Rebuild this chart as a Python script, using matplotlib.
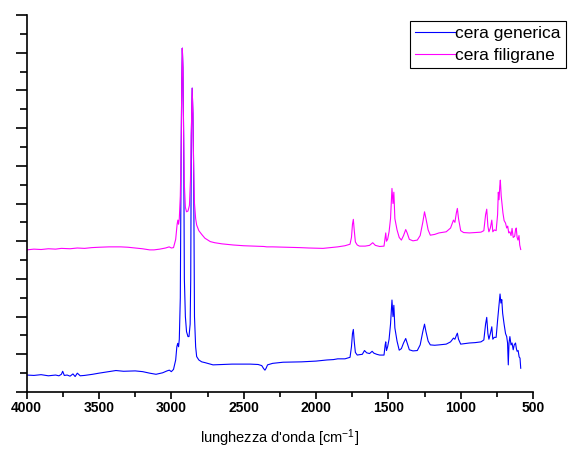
import matplotlib
matplotlib.use("Agg")
import matplotlib.pyplot as plt
from matplotlib.ticker import MultipleLocator, NullFormatter

plt.rcParams["font.family"] = ["Liberation Sans", "DejaVu Sans"]
plt.rcParams["mathtext.default"] = "regular"

# cera generica (blu)
gen_x = [4000, 3950, 3900, 3850, 3800, 3777, 3760, 3751, 3740, 3720, 3700, 3680, 3665, 3650, 3630,
         3600, 3544, 3500, 3450, 3383, 3330, 3250, 3198, 3150, 3106, 3060, 3030, 3014, 3000, 2985,
         2970, 2962, 2956, 2950, 2945, 2938, 2932, 2928, 2924, 2920, 2915, 2910, 2903, 2895, 2885,
         2878, 2870, 2866, 2862, 2856, 2851, 2846, 2840, 2832, 2825, 2810, 2790, 2768, 2712, 2650,
         2580, 2455, 2400, 2375, 2362, 2353, 2345, 2335, 2300, 2228, 2100, 2000, 1924, 1880, 1850,
         1800, 1765, 1755, 1748, 1742, 1736, 1728, 1715, 1700, 1680, 1665, 1650, 1630, 1612, 1600,
         1580, 1560, 1530, 1522, 1518, 1513, 1505, 1495, 1485, 1475, 1468, 1462, 1455, 1440, 1425,
         1410, 1395, 1380, 1370, 1355, 1330, 1300, 1280, 1262, 1250, 1240, 1225, 1210, 1180, 1150,
         1100, 1070, 1050, 1040, 1030, 1023, 1015, 1000, 980, 940, 900, 860, 840, 828, 820,
         812, 805, 795, 785, 778, 768, 755, 745, 735, 728, 722, 716, 710, 700, 690,
         682, 676, 671, 666, 660, 652, 645, 637, 630, 621, 615, 610, 603, 596, 590, 585]
gen_y = [0.45, 0.44, 0.46, 0.43, 0.45, 0.43, 0.47, 0.55, 0.44, 0.45, 0.42, 0.48, 0.41, 0.50, 0.43,
         0.44, 0.47, 0.50, 0.53, 0.57, 0.55, 0.56, 0.54, 0.50, 0.47, 0.51, 0.56, 0.58, 0.54, 0.60,
         0.85, 1.20, 1.29, 1.20, 1.40, 2.5, 6.5, 8.2, 9.12, 8.6, 6.8, 3.0, 2.0, 1.60, 1.47,
         1.47, 1.8, 3.0, 6.8, 8.06, 7.4, 6.0, 2.0, 1.2, 0.94, 0.85, 0.80, 0.78, 0.72, 0.73,
         0.74, 0.74, 0.73, 0.70, 0.62, 0.58, 0.63, 0.72, 0.76, 0.79, 0.80, 0.82, 0.85, 0.86, 0.88,
         0.88, 0.92, 1.20, 1.55, 1.66, 1.35, 1.05, 0.98, 0.99, 1.00, 1.10, 1.04, 1.02, 1.08, 1.03,
         1.00, 0.98, 0.98, 1.25, 1.33, 1.10, 1.20, 1.40, 1.80, 2.44, 2.0, 2.3, 1.70, 1.35, 1.11,
         1.15, 1.30, 1.42, 1.30, 1.12, 1.09, 1.10, 1.25, 1.60, 1.80, 1.60, 1.35, 1.25, 1.24, 1.25,
         1.27, 1.33, 1.43, 1.40, 1.50, 1.56, 1.40, 1.27, 1.28, 1.30, 1.31, 1.33, 1.38, 1.80, 1.98,
         1.55, 1.40, 1.55, 1.73, 1.40, 1.45, 1.45, 1.90, 2.30, 2.60, 2.36, 2.45, 2.09, 1.80, 1.55,
         1.47, 1.30, 0.72, 1.30, 1.47, 1.25, 1.30, 1.12, 1.25, 1.30, 1.15, 1.08, 1.10, 0.93, 0.90, 0.63]

# cera filigrane (magenta)
fil_x = [4000, 3950, 3900, 3850, 3800, 3760, 3700, 3650, 3600, 3550, 3500, 3430, 3350, 3300, 3250,
         3200, 3150, 3120, 3080, 3040, 3015, 3000, 2985, 2970, 2960, 2955, 2950, 2945, 2938, 2932,
         2928, 2924, 2920, 2915, 2910, 2903, 2895, 2885, 2875, 2868, 2862, 2856, 2851, 2846, 2840,
         2832, 2825, 2810, 2790, 2768, 2731, 2700, 2650, 2573, 2500, 2420, 2360, 2341, 2300, 2200,
         2111, 2050, 1952, 1903, 1850, 1800, 1765, 1755, 1748, 1742, 1736, 1728, 1715, 1700, 1660,
         1630, 1608, 1590, 1560, 1530, 1522, 1518, 1513, 1505, 1495, 1485, 1475, 1468, 1462, 1455,
         1440, 1425, 1410, 1395, 1380, 1370, 1355, 1330, 1300, 1280, 1262, 1250, 1240, 1225, 1210,
         1180, 1150, 1100, 1070, 1050, 1040, 1030, 1023, 1015, 1000, 980, 940, 900, 860, 840,
         828, 820, 812, 805, 795, 785, 778, 768, 755, 745, 740, 735, 730, 726, 720,
         715, 708, 700, 690, 682, 675, 668, 660, 652, 645, 637, 627, 621, 616, 610,
         604, 597, 592, 585]
fil_y = [3.77, 3.79, 3.78, 3.80, 3.79, 3.81, 3.80, 3.82, 3.81, 3.83, 3.84, 3.85, 3.85, 3.84, 3.82,
         3.80, 3.77, 3.77, 3.79, 3.82, 3.85, 3.82, 3.83, 4.05, 4.45, 4.56, 4.45, 4.60, 5.2, 6.5,
         8.2, 9.12, 8.6, 6.8, 5.5, 4.9, 4.78, 4.80, 4.95, 5.6, 6.8, 8.06, 7.4, 6.0, 5.0,
         4.6, 4.43, 4.28, 4.18, 4.08, 3.99, 3.96, 3.93, 3.90, 3.88, 3.87, 3.86, 3.85, 3.85, 3.84,
         3.83, 3.82, 3.81, 3.83, 3.85, 3.88, 3.92, 4.10, 4.45, 4.58, 4.30, 3.98, 3.90, 3.87, 3.87,
         3.89, 3.96, 3.89, 3.86, 3.87, 4.10, 4.22, 4.00, 4.05, 4.25, 4.60, 5.40, 5.0, 5.3, 4.6,
         4.30, 4.10, 4.03, 4.15, 4.31, 4.22, 4.05, 4.01, 4.03, 4.15, 4.50, 4.78, 4.60, 4.30, 4.16,
         4.18, 4.22, 4.25, 4.35, 4.56, 4.50, 4.75, 4.87, 4.60, 4.28, 4.23, 4.22, 4.23, 4.24, 4.28,
         4.70, 4.85, 4.40, 4.25, 4.35, 4.56, 4.25, 4.30, 4.28, 4.70, 5.30, 5.10, 5.45, 5.62, 5.20,
         5.00, 4.75, 4.55, 4.48, 4.35, 4.40, 4.22, 4.25, 4.15, 4.34, 4.10, 4.13, 4.30, 4.35, 4.10,
         4.03, 4.15, 3.90, 3.78]

fig = plt.figure(figsize=(5.71, 4.51), dpi=100)
ax = fig.add_axes([0.0467, 0.1308, 0.8868, 0.8359])

ax.plot(gen_x, gen_y, color="#0000FF", lw=0.8, label="cera generica")
ax.plot(fil_x, fil_y, color="#FF00FF", lw=0.8, label="cera filigrane")

ax.set_xlim(4000, 500)
ax.set_ylim(0, 10)
ax.xaxis.set_major_locator(MultipleLocator(500))
ax.xaxis.set_minor_locator(MultipleLocator(250))
ax.yaxis.set_major_locator(MultipleLocator(1))
ax.yaxis.set_minor_locator(MultipleLocator(0.5))
ax.yaxis.set_major_formatter(NullFormatter())

for s in ["top", "right"]:
    ax.spines[s].set_visible(False)
ax.spines["left"].set_linewidth(1.2)
ax.spines["bottom"].set_linewidth(1.2)
ax.tick_params(axis="y", which="major", direction="out", length=8, width=1.2)
ax.tick_params(axis="y", which="minor", direction="out", length=5, width=1.2)
ax.tick_params(axis="x", which="major", direction="out", length=5, width=1.2)
ax.tick_params(axis="x", which="minor", direction="out", length=3.5, width=1.2)
ax.tick_params(axis="x", labelsize=10, pad=1.5)
for lab in ax.get_xticklabels():
    lab.set_fontweight("bold")

ax.set_xlabel("lunghezza d'onda [cm$^{-1}$]", fontsize=10.5, labelpad=9)

leg = ax.legend(loc="upper right", bbox_to_anchor=(566 / 571, 1 - 21 / 451),
                bbox_transform=fig.transFigure, fontsize=12.5, handlelength=2.3,
                handletextpad=0.0, borderpad=0.3, labelspacing=0.35,
                borderaxespad=0, fancybox=False, framealpha=1)
leg.get_frame().set_edgecolor("black")
leg.get_frame().set_linewidth(0.8)

fig.savefig("out.png", dpi=100)
